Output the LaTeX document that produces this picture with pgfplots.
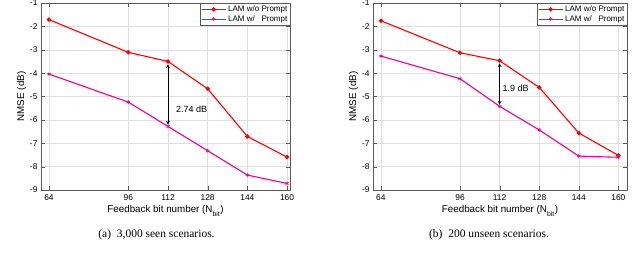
\documentclass[border=0pt]{standalone}
\usepackage{fontspec}
\setmainfont{Liberation Sans}
\newfontfamily\capfont{Liberation Serif}
\usepackage{pgfplots}
\pgfplotsset{compat=1.18}
\begin{document}
\begin{tikzpicture}
\path[use as bounding box] (0pt,0pt) rectangle (640pt,257pt);
\pgfplotsset{
  myax/.style={
    scale only axis, anchor=south west,
    height=187pt,
    ymin=-9, ymax=-1,
    ytick={-9,-8,-7,-6,-5,-4,-3,-2,-1},
    xtick={64,96,112,128,144,160},
    grid=major,
    major grid style={gray!25, line width=0.4pt},
    axis line style={gray!70!black, line width=0.5pt},
    tick style={gray!70!black},
    tick align=inside,
    ticklabel style={font=\fontsize{8.4}{9}\selectfont},
    xticklabel style={yshift=-1.5pt},
    /pgf/number format/assume math mode=true,
    xlabel={Feedback bit number (N\textsubscript{\raisebox{-2pt}{bit}})},
    ylabel={NMSE (dB)},
    label style={font=\fontsize{9.8}{11}\selectfont},
    xlabel style={yshift=2pt},
    ylabel style={yshift=-3pt},
    legend style={font=\fontsize{8}{9}\selectfont, draw=gray!70!black, line width=0.4pt,
      inner sep=0.5pt, row sep=-1.5pt, at={(1,1)}, anchor=north east, cells={anchor=west}},
    legend image code/.code={\draw[mark repeat=2,mark phase=2,##1] plot coordinates {(0pt,0pt) (12pt,0pt) (24pt,0pt)};},
    legend cell align=left,
    every axis plot/.append style={line width=1.1pt},
  }
}
\begin{axis}[myax, at={(41pt,67pt)}, width=249pt, xmin=60.8, xmax=161.2]
\addplot[red, mark=*, mark size=1.6pt] coordinates {(64,-1.71) (96,-3.11) (112,-3.50) (128,-4.67) (144,-6.71) (160,-7.59)};
\addlegendentry{LAM w/o Prompt}
\addplot[magenta, mark=asterisk, mark size=2pt, mark options={line width=0.6pt}] coordinates {(64,-4.04) (96,-5.24) (112,-6.28) (128,-7.32) (144,-8.36) (160,-8.72)};
\addlegendentry{LAM w/\ \ \ Prompt}
\draw[<->, >=stealth, line width=0.7pt] (axis cs:112,-3.62) -- (axis cs:112,-6.2);
\node[font=\fontsize{9}{10}\selectfont] at (axis cs:121.5,-5.56) {2.74 dB};
\end{axis}
\begin{axis}[myax, at={(373pt,67pt)}, width=254pt, xmin=60.8, xmax=163.5]
\addplot[red, mark=*, mark size=1.6pt] coordinates {(64,-1.76) (96,-3.13) (112,-3.47) (128,-4.61) (144,-6.56) (160,-7.52)};
\addlegendentry{LAM w/o Prompt}
\addplot[magenta, mark=asterisk, mark size=2pt, mark options={line width=0.6pt}] coordinates {(64,-3.27) (96,-4.24) (112,-5.42) (128,-6.43) (144,-7.55) (160,-7.60)};
\addlegendentry{LAM w/\ \ \ Prompt}
\draw[<->, >=stealth, line width=0.7pt] (axis cs:112,-3.58) -- (axis cs:112,-5.35);
\node[font=\fontsize{9}{10}\selectfont] at (axis cs:118.5,-4.64) {1.9 dB};
\end{axis}
\node[font=\capfont\fontsize{11.5}{13}\selectfont] at (156.5pt,22pt) {(a)\ \ 3,000 seen scenarios.};
\node[font=\capfont\fontsize{11.5}{13}\selectfont] at (489pt,22pt) {(b)\ \ 200 unseen scenarios.};
\end{tikzpicture}
\end{document}
